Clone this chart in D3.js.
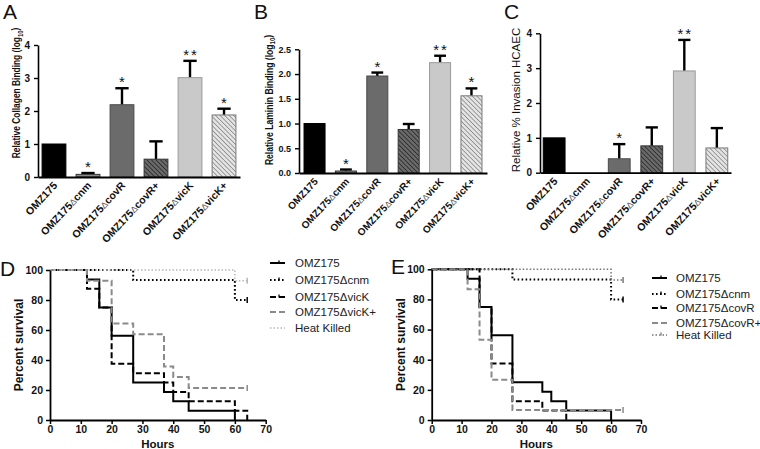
<html>
<head>
<script src="https://d3js.org/d3.v7.min.js"></script>
<style>
  body { margin: 0; background: #fff; }
  text { font-family: "Liberation Sans", Arial, sans-serif; }
</style>
</head>
<body>
<script>
// ---- data ----
const strains = ["OMZ175", "OMZ175Δcnm", "OMZ175ΔcovR", "OMZ175ΔcovR+", "OMZ175ΔvicK", "OMZ175ΔvicK+"];

const collagenMean = [1.0, 0.08, 2.19, 0.54, 3.01, 1.88];
const collagenErr  = [0, 0.04, 0.50, 0.54, 0.51, 0.19];
const collagenStars = ["", "*", "*", "", "**", "*"];
const collagenTicks = [0, 1, 2, 3, 4];

const lamininMean = [1.0, 0.04, 1.96, 0.88, 2.23, 1.56];
const lamininErr  = [0, 0.03, 0.07, 0.11, 0.14, 0.15];
const lamininStars = ["", "*", "*", "", "**", "*"];
const lamininTicks = [0, 0.5, 1.0, 1.5, 2.0, 2.5];

const invasionMean = [1.0, 0, 0.40, 0.77, 2.92, 0.71];
const invasionErr  = [0, 0, 0.42, 0.53, 0.89, 0.57];
const invasionStars = ["", "", "*", "", "**", ""];
const invasionTicks = [0, 1, 2, 3, 4];

// survival curves: [hours, percent]
const survOMZ175 = [[0,100],[12,93.75],[16,75],[20,56.25],[27,25],[37,18.75],[40,12.5],[45,6.25],[60,0]];
const survCnm    = [[0,100],[27,93.3],[60,80],[64,80]];
const survVicK   = [[0,100],[12,87.5],[16,75],[20,37.5],[27,31.25],[37,25],[40,18.75],[45,12.5],[60,6.25],[64,0]];
const survVicKp  = [[0,100],[12,92.9],[20,64.3],[27,57.1],[37,35.7],[40,28.6],[45,21.4],[64,21.4]];
const survHeat   = [[0,100],[60,92.9],[64,92.9]];
const survCovR   = [[0,100],[16,75],[20,37.5],[27,12.5],[37,6.25],[45,0]];
const survCovRp  = [[0,100],[12,86.7],[16,53.3],[20,26.7],[27,6.67],[64,6.67]];

const hourTicks = [0, 10, 20, 30, 40, 50, 60, 70];
const percentTicks = [0, 20, 40, 60, 80, 100];

// ---- drawing ----
const svg = d3.select("body").append("svg")
  .attr("width", 760)
  .attr("height", 449);

const defs = svg.append("defs");
function hatch(id, bg, line) {
  let p = defs.append("pattern")
    .attr("id", id)
    .attr("patternUnits", "userSpaceOnUse")
    .attr("width", 3.2).attr("height", 3.2)
    .attr("patternTransform", "rotate(-45)");
  p.append("rect").attr("width", 3.2).attr("height", 3.2).attr("fill", bg);
  p.append("line").attr("x1", 0).attr("y1", 0).attr("x2", 0).attr("y2", 3.2)
    .attr("stroke", line).attr("stroke-width", 1.6);
}
hatch("hatchDark", "#6a6a6a", "#2a2a2a");
hatch("hatchLight", "#e4e4e4", "#8a8a8a");

const barFill   = ["#000", "#8a8a8a", "#6b6b6b", "url(#hatchDark)", "#c9c9c9", "url(#hatchLight)"];
const barStroke = ["#000", "#333", "#4a4a4a", "#333", "#9a9a9a", "#777"];

function panelLetter(t, x, y) {
  svg.append("text").attr("x", x).attr("y", y)
    .attr("font-family", "Open Sans").attr("font-size", "21px").attr("fill", "#111")
    .text(t);
}

function barPanel(opt) {
  let g = svg.append("g");
  let x = d3.scaleBand()
    .domain(strains)
    .range(opt.xr)
    .paddingInner(opt.pin)
    .paddingOuter(opt.pout);
  let y = d3.scaleLinear().domain(opt.domain).range(opt.yr);

  let rows = strains.map((s, i) => ({ s: s, i: i, m: opt.mean[i], e: opt.err[i], star: opt.stars[i] }));

  // error bars (upper only)
  let eb = rows.filter(d => d.e > 0);
  let cap = x.bandwidth() * 0.28;
  g.selectAll(".ev").data(eb).enter().append("line")
    .attr("x1", d => x(d.s) + x.bandwidth() / 2)
    .attr("x2", d => x(d.s) + x.bandwidth() / 2)
    .attr("y1", d => y(d.m))
    .attr("y2", d => y(d.m + d.e))
    .attr("stroke", "#000").attr("stroke-width", 2.4);
  g.selectAll(".ec").data(eb).enter().append("line")
    .attr("x1", d => x(d.s) + x.bandwidth() / 2 - cap)
    .attr("x2", d => x(d.s) + x.bandwidth() / 2 + cap)
    .attr("y1", d => y(d.m + d.e))
    .attr("y2", d => y(d.m + d.e))
    .attr("stroke", "#000").attr("stroke-width", 2.4);

  g.selectAll(".bar").data(rows.filter(d => d.m > 0)).enter().append("rect")
    .attr("x", d => x(d.s))
    .attr("y", d => y(d.m))
    .attr("width", x.bandwidth())
    .attr("height", d => y(0) - y(d.m))
    .attr("fill", d => barFill[d.i])
    .attr("stroke", d => barStroke[d.i])
    .attr("stroke-width", 1);

  g.selectAll(".star").data(rows.filter(d => d.star)).enter().append("text")
    .attr("x", d => x(d.s) + x.bandwidth() / 2 + (d.star.length > 1 ? 1 : 0))
    .attr("y", d => y(d.m + d.e) - 1)
    .attr("text-anchor", "middle")
    .attr("font-size", "15px")
    .attr("letter-spacing", d => d.star.length > 1 ? "2px" : "0px")
    .attr("fill", "#111")
    .text(d => d.star);

  // y axis
  let ya = g.append("g")
    .attr("transform", `translate(${opt.xr[0]},0)`)
    .call(d3.axisLeft(y).tickValues(opt.ticks).tickFormat(opt.fmt).tickSize(4).tickSizeOuter(0));
  ya.select(".domain").attr("stroke-width", 1.6);
  ya.selectAll(".tick line").attr("stroke-width", 1.4);
  ya.selectAll(".tick text")
    .attr("font-family", "Liberation Sans").attr("font-weight", "bold")
    .attr("font-size", opt.tickSize).attr("fill", "#111").attr("dx", "-1");

  // x axis line + rotated labels
  let xa = g.append("g")
    .attr("transform", `translate(0,${y(0)})`)
    .call(d3.axisBottom(x).tickSize(0).tickSizeOuter(0));
  xa.select(".domain").attr("stroke-width", 1.8);
  xa.selectAll(".tick text").each(function (d) {
    let t = d3.select(this);
    t.text(null)
      .attr("font-family", "Liberation Sans")
      .attr("font-weight", "bold")
      .attr("font-size", opt.labSize)
      .attr("fill", "#111")
      .attr("text-anchor", "end")
      .attr("y", 0).attr("dy", 0)
      .attr("transform", "translate(4,9) rotate(-47)");
    let parts = d.split("Δ");
    t.append("tspan").text(parts[0]);
    if (parts.length > 1) {
      t.append("tspan").attr("font-weight", "normal").attr("font-size", "85%").attr("fill", "#555").text("Δ");
      t.append("tspan").text(parts[1]);
    }
  });

  // y title (squeezed along its length to match the narrow original lettering)
  let yt = svg.append("text")
    .attr("transform", `translate(${opt.titleX},${opt.titleY}) rotate(-90) scale(${opt.titleScale},1)`)
    .attr("text-anchor", "middle")
    .attr("font-weight", opt.titleWeight)
    .attr("font-size", opt.titleSize)
    .attr("fill", "#111");
  yt.append("tspan").text(opt.title);
  if (opt.sub) {
    yt.append("tspan").attr("font-size", "70%").attr("dy", "0.35em").text(opt.sub);
    yt.append("tspan").attr("dy", "-0.35em").text(")");
  }
}

barPanel({
  xr: [38, 240], yr: [177, 45], domain: [0, 4], pin: 0.3, pout: 0.12,
  mean: collagenMean, err: collagenErr, stars: collagenStars,
  ticks: collagenTicks, fmt: d3.format("d"), tickSize: "10px", labSize: "10.5px",
  title: "Relative Collagen Binding  (log", sub: "10",
  titleX: 20, titleY: 93, titleWeight: "bold", titleSize: "10.5px", titleScale: 0.8
});
barPanel({
  xr: [299, 487], yr: [173, 49.3], domain: [0, 2.5], pin: 0.33, pout: 0.16,
  mean: lamininMean, err: lamininErr, stars: lamininStars,
  ticks: lamininTicks, fmt: d3.format(".1f"), tickSize: "9px", labSize: "10px",
  title: "Relative Laminin Binding (log", sub: "10",
  titleX: 273, titleY: 100, titleWeight: "bold", titleSize: "10px", titleScale: 0.86
});
barPanel({
  xr: [540, 731], yr: [172.7, 33.3], domain: [0, 4], pin: 0.33, pout: 0.1,
  mean: invasionMean, err: invasionErr, stars: invasionStars,
  ticks: invasionTicks, fmt: d3.format("d"), tickSize: "10px", labSize: "10.5px",
  title: "Relative % Invasion HCAEC", sub: null,
  titleX: 520, titleY: 100, titleWeight: "normal", titleSize: "11.5px", titleScale: 1
});

panelLetter("A", 3, 19);
panelLetter("B", 254, 19);
panelLetter("C", 504, 19);
panelLetter("D", 0, 276);
panelLetter("E", 391, 274);

// survival panels
function survPanel(opt) {
  let g = svg.append("g");
  let x = d3.scaleLinear().domain([0, 70]).range(opt.xr);
  let y = d3.scaleLinear().domain([0, 100]).range(opt.yr);
  let line = d3.line().x(d => x(d[0])).y(d => y(d[1])).curve(d3.curveStepAfter);

  opt.series.forEach(s => {
    g.append("path")
      .datum(s.data)
      .attr("d", line)
      .attr("fill", "none")
      .attr("stroke", s.color)
      .attr("stroke-width", s.w)
      .attr("stroke-dasharray", s.dash);
    let last = s.data[s.data.length - 1];
    if (last[1] > 0) {
      g.append("line")
        .attr("x1", x(last[0])).attr("x2", x(last[0]))
        .attr("y1", y(last[1]) - 3).attr("y2", y(last[1]) + 3)
        .attr("stroke", s.color).attr("stroke-width", 1.5);
    }
  });

  let xa = g.append("g")
    .attr("transform", `translate(0,${opt.yr[0]})`)
    .call(d3.axisBottom(x).tickValues(hourTicks).tickSize(4).tickPadding(2).tickSizeOuter(0));
  let ya = g.append("g")
    .attr("transform", `translate(${opt.xr[0]},0)`)
    .call(d3.axisLeft(y).tickValues(percentTicks).tickSize(4).tickSizeOuter(0));
  [xa, ya].forEach(a => {
    a.select(".domain").attr("stroke-width", 1.8);
    a.selectAll(".tick line").attr("stroke-width", 1.5);
    a.selectAll(".tick text")
      .attr("font-family", "Liberation Sans").attr("font-weight", "bold")
      .attr("font-size", "10.5px").attr("fill", "#111");
  });

  svg.append("text")
    .attr("x", (opt.xr[0] + opt.xr[1]) / 2).attr("y", opt.yr[0] + 28)
    .attr("text-anchor", "middle")
    .attr("font-weight", "bold").attr("font-size", "11.5px").attr("fill", "#111")
    .text("Hours");
  svg.append("text")
    .attr("transform", `translate(${opt.xr[0] - 27},${(opt.yr[0] + opt.yr[1]) / 2}) rotate(-90)`)
    .attr("text-anchor", "middle")
    .attr("font-weight", "bold").attr("font-size", "12px").attr("fill", "#111")
    .text("Percent survival");

  // legend
  let lg = svg.append("g");
  opt.series.forEach((s, i) => {
    let ly = opt.legY[i];
    lg.append("line")
      .attr("x1", opt.legX).attr("x2", opt.legX + 15)
      .attr("y1", ly).attr("y2", ly)
      .attr("stroke", s.color).attr("stroke-width", s.w)
      .attr("stroke-dasharray", s.dash);
    if (s.mark) {
      lg.append("line")
        .attr("x1", opt.legX + 9).attr("x2", opt.legX + 9)
        .attr("y1", ly - 2.5).attr("y2", ly + 0.5)
        .attr("stroke", s.color).attr("stroke-width", 1.3);
    }
    lg.append("text")
      .attr("x", opt.legX + opt.legGap).attr("y", ly + 4)
      .attr("font-family", "Liberation Sans")
      .attr("font-size", "11.5px").attr("fill", "#222")
      .text(s.name);
  });
}

survPanel({
  xr: [50, 265.7], yr: [420, 270],
  legX: 270, legGap: 25, legY: [263, 280, 297, 312, 328],
  series: [
    { name: "OMZ175",       data: survOMZ175, color: "#000",   w: 2,   dash: null,    mark: true },
    { name: "OMZ175Δcnm",   data: survCnm,    color: "#000",   w: 2,   dash: "1.6,2.4", mark: true },
    { name: "OMZ175ΔvicK",  data: survVicK,   color: "#000",   w: 2,   dash: "6,3",   mark: true },
    { name: "OMZ175ΔvicK+", data: survVicKp,  color: "#8a8a8a", w: 2,  dash: "6,3",   mark: false },
    { name: "Heat Killed",  data: survHeat,   color: "#b8b8b8", w: 1.5, dash: "1.5,2", mark: false }
  ]
});
survPanel({
  xr: [431.7, 641], yr: [420, 269.3],
  legX: 652, legGap: 24, legY: [278, 294, 308, 323, 335],
  series: [
    { name: "OMZ175",       data: survOMZ175, color: "#000",   w: 2,   dash: null,    mark: true },
    { name: "OMZ175Δcnm",   data: survCnm,    color: "#000",   w: 2,   dash: "1.6,2.4", mark: true },
    { name: "OMZ175ΔcovR",  data: survCovR,   color: "#000",   w: 2,   dash: "6,3",   mark: true },
    { name: "OMZ175ΔcovR+", data: survCovRp,  color: "#8a8a8a", w: 2,  dash: "6,3",   mark: false },
    { name: "Heat Killed",  data: survHeat,   color: "#777",   w: 1.5, dash: "1.5,2", mark: true }
  ]
});
</script>
</body>
</html>
